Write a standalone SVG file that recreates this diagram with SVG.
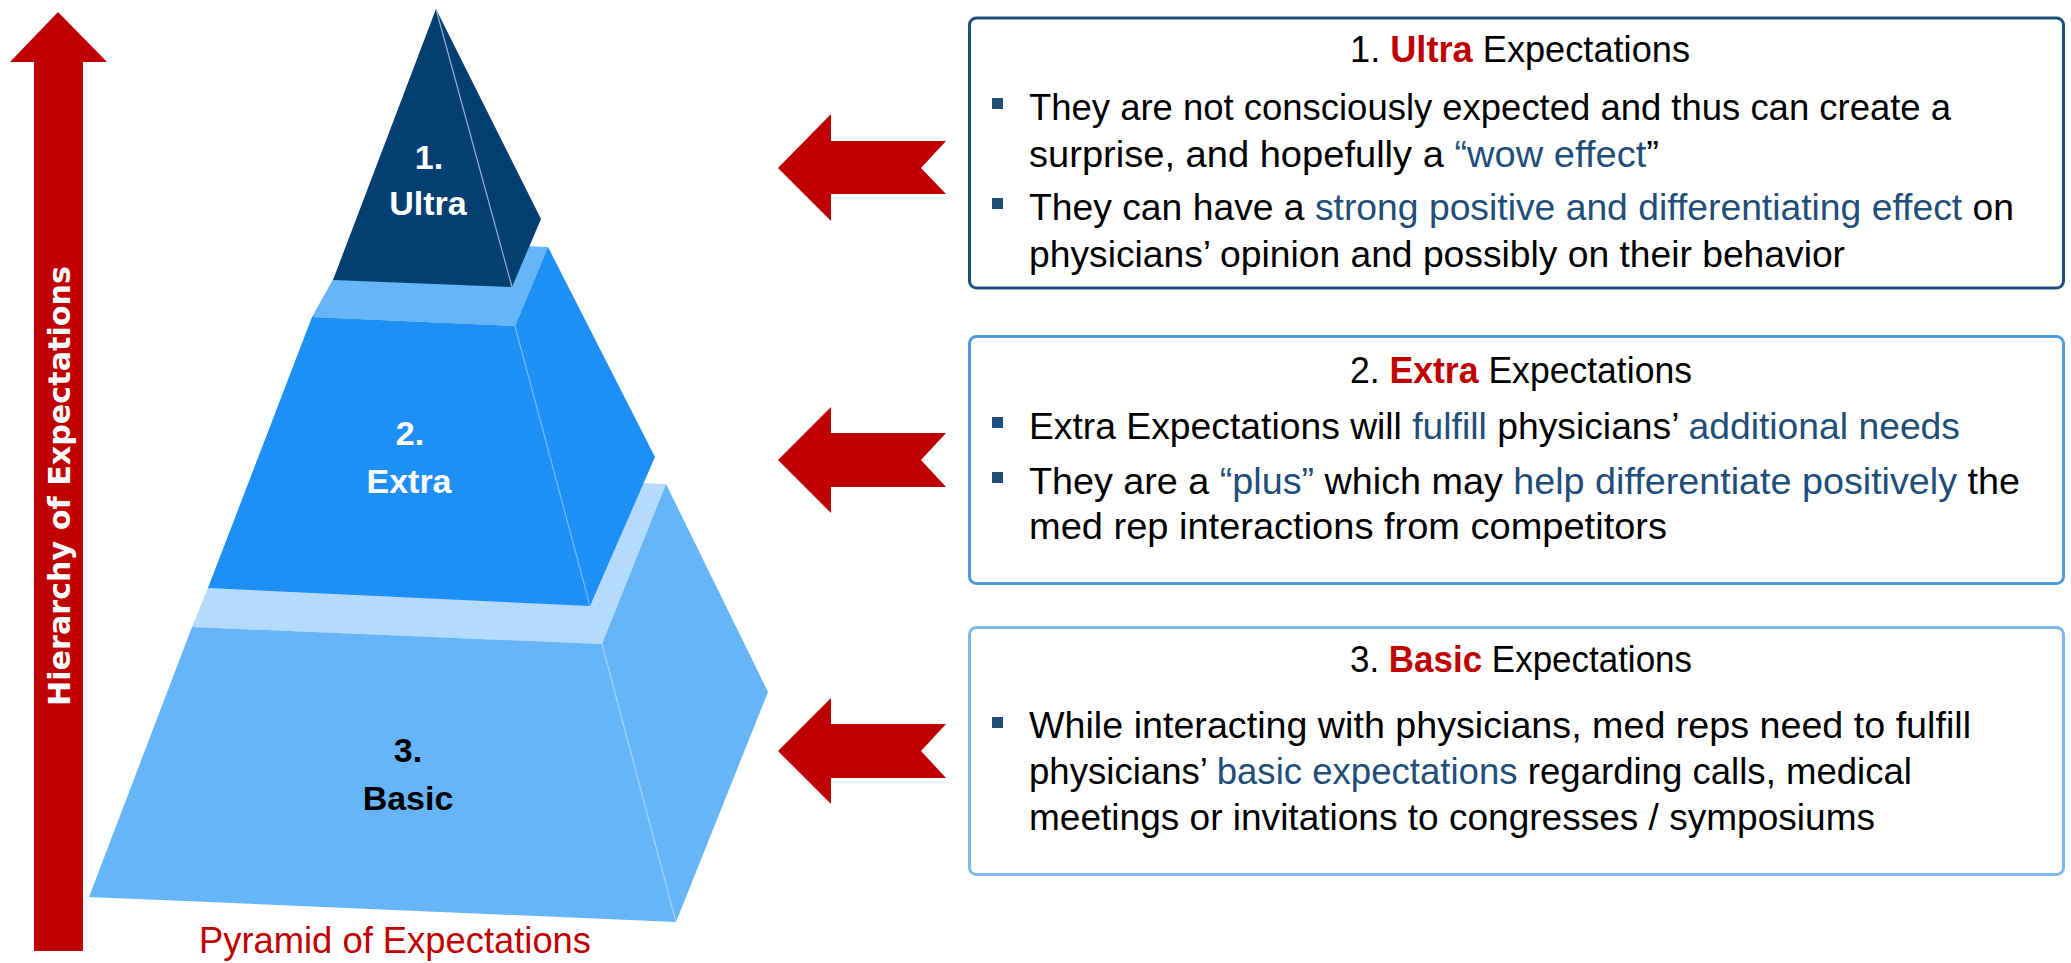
<svg xmlns="http://www.w3.org/2000/svg" width="2071" height="963" viewBox="0 0 2071 963">
<style>
.txt{font-family:"Liberation Sans",Arial,sans-serif;font-size:36px;fill:#000}
.b{font-weight:bold}
.red{fill:#C00000}
.blu{fill:#1F4E79}
.lbl{font-family:"Liberation Sans",Arial,sans-serif;font-size:34px;font-weight:bold;text-anchor:middle}
.box{fill:#fff;stroke-width:3}
.bul{fill:#1F4E79}
.arr{fill:#C00000}
.ridge{stroke-width:1.2;fill:none}
</style>

<g id="hierarchy-arrow">
<polygon class="arr" points="58,12 107,62 83,62 83,951 34,951 34,62 10,62"/>
<text transform="translate(70,486) rotate(-90)" text-anchor="middle" textLength="440" lengthAdjust="spacingAndGlyphs" style="font-family:'DejaVu Sans',Verdana,sans-serif;font-weight:bold;font-size:30.5px;fill:#fff">Hierarchy of Expectations</text>
</g>

<g id="pyramid-basic">
<polygon fill="#B4DBFB" points="192,627 602,644 666,484 257,467"/>
<polygon fill="#66B5F8" points="192,627 602,644 676,922 89,897"/>
<polygon fill="#66B5F8" points="602,644 666,484 768,692 676,922"/>
<line class="ridge" stroke="#A6D2FA" x1="602" y1="644" x2="676" y2="922"/>
<text class="lbl" x="408" y="762" fill="#000">3.</text>
<text class="lbl" x="408" y="810" fill="#000">Basic</text>
</g>

<g id="pyramid-extra">
<polygon fill="#66B5F8" points="312,317 515,326 548,247 356,238"/>
<polygon fill="#1E90F5" points="312,317 515,326 590,606 208,588"/>
<polygon fill="#1E90F5" points="515,326 548,247 655,457 590,606"/>
<line class="ridge" stroke="#74BBF8" x1="515" y1="326" x2="590" y2="606"/>
<text class="lbl" x="410" y="445" fill="#fff">2.</text>
<text class="lbl" x="409" y="493" fill="#fff">Extra</text>
</g>

<g id="pyramid-ultra">
<polygon fill="#043F72" points="436,9 333,280 512,287"/>
<polygon fill="#043F72" points="436,9 541,219 512,287"/>
<line class="ridge" stroke="#8AAFD0" x1="436" y1="9" x2="512" y2="287"/>
<text class="lbl" x="429" y="169" fill="#fff">1.</text>
<text class="lbl" x="428" y="215" fill="#fff">Ultra</text>
</g>

<g id="caption">
<text class="txt red" x="199" y="953" textLength="392" lengthAdjust="spacingAndGlyphs">Pyramid of Expectations</text>
</g>

<g id="connectors">
<polygon class="arr" points="778,168 831,114 831,141 946,141 921,168 946,194 831,194 831,221"/>
<polygon class="arr" points="778,460 831,407 831,433 946,433 921,460 946,487 831,487 831,513"/>
<polygon class="arr" points="778,751 831,698 831,724 946,724 921,751 946,778 831,778 831,804"/>
</g>

<g id="box-ultra">
<rect class="box" x="969.5" y="18" width="1094" height="270" rx="7" stroke="#1F4E79"/>
<text class="txt" x="1350" y="62" textLength="340" lengthAdjust="spacingAndGlyphs">1. <tspan class="b red">Ultra</tspan> Expectations</text>
<rect class="bul" x="992" y="98" width="11" height="11"/>
<text class="txt" x="1029" y="120" textLength="922" lengthAdjust="spacingAndGlyphs">They are not consciously expected and thus can create a</text>
<text class="txt" x="1029" y="167" textLength="630" lengthAdjust="spacingAndGlyphs">surprise, and hopefully a <tspan class="blu">“wow effect</tspan>”</text>
<rect class="bul" x="992" y="198" width="11" height="11"/>
<text class="txt" x="1029" y="220" textLength="985" lengthAdjust="spacingAndGlyphs">They can have a <tspan class="blu">strong positive and differentiating effect</tspan> on</text>
<text class="txt" x="1029" y="267" textLength="816" lengthAdjust="spacingAndGlyphs">physicians’ opinion and possibly on their behavior</text>
</g>

<g id="box-extra">
<rect class="box" x="969.5" y="336.5" width="1094" height="247" rx="7" stroke="#4F9BE0"/>
<text class="txt" x="1350" y="383" textLength="342" lengthAdjust="spacingAndGlyphs">2. <tspan class="b red">Extra</tspan> Expectations</text>
<rect class="bul" x="992" y="417" width="11" height="11"/>
<text class="txt" x="1029" y="439" textLength="931" lengthAdjust="spacingAndGlyphs">Extra Expectations will <tspan class="blu">fulfill</tspan> physicians’ <tspan class="blu">additional needs</tspan></text>
<rect class="bul" x="992" y="472" width="11" height="11"/>
<text class="txt" x="1029" y="494" textLength="991" lengthAdjust="spacingAndGlyphs">They are a <tspan class="blu">“plus”</tspan> which may <tspan class="blu">help differentiate positively</tspan> the</text>
<text class="txt" x="1029" y="539" textLength="638" lengthAdjust="spacingAndGlyphs">med rep interactions from competitors</text>
</g>

<g id="box-basic">
<rect class="box" x="969.5" y="627.5" width="1094" height="247" rx="7" stroke="#7DB9EE"/>
<text class="txt" x="1350" y="672" textLength="342" lengthAdjust="spacingAndGlyphs">3. <tspan class="b red">Basic</tspan> Expectations</text>
<rect class="bul" x="992" y="717" width="11" height="11"/>
<text class="txt" x="1029" y="738" textLength="942" lengthAdjust="spacingAndGlyphs">While interacting with physicians, med reps need to fulfill</text>
<text class="txt" x="1029" y="784" textLength="883" lengthAdjust="spacingAndGlyphs">physicians’ <tspan class="blu">basic expectations</tspan> regarding calls, medical</text>
<text class="txt" x="1029" y="830" textLength="846" lengthAdjust="spacingAndGlyphs">meetings or invitations to congresses / symposiums</text>
</g>
</svg>
